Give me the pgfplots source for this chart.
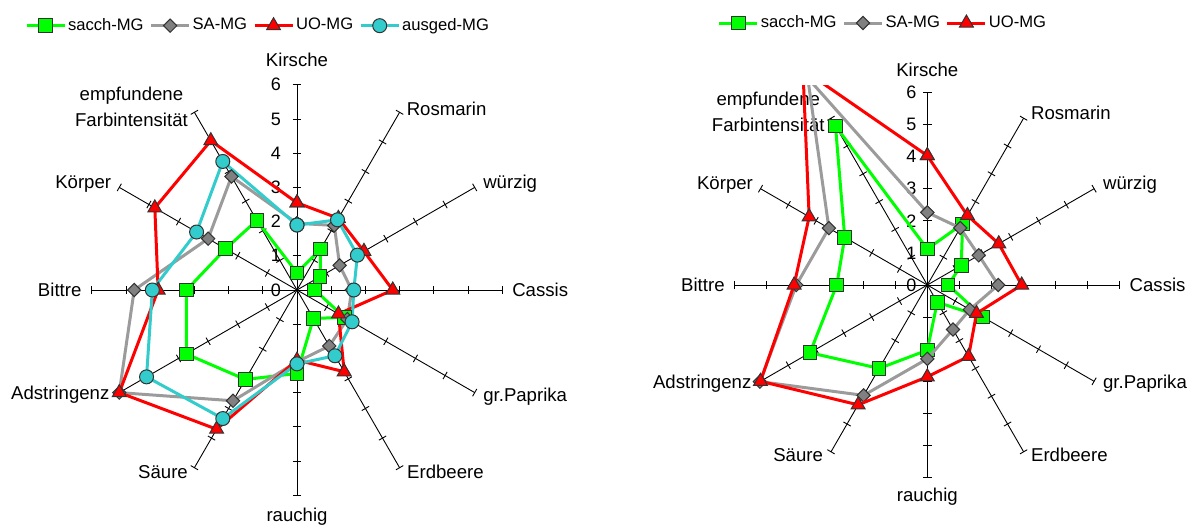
\documentclass[border=0pt]{standalone}
\usepackage{pgfplots}
\pgfplotsset{compat=1.18}
\usepackage{fontspec}
\setmainfont{Liberation Sans}

\definecolor{cGreen}{RGB}{0,255,0}
\definecolor{cGray}{RGB}{155,155,155}
\definecolor{cGrayM}{RGB}{128,128,128}
\definecolor{cRed}{RGB}{255,0,0}
\definecolor{cCyan}{RGB}{51,204,204}

\newcommand\lblfont{\fontsize{9.3}{12.9}\selectfont}
\newcommand\tickfont{\fontsize{9}{10}\selectfont}

\pgfplotsset{
  radar/.style={hide axis, anchor=origin,
    legend columns=4,
    legend style={draw=none, fill=none, anchor=center, inner sep=0pt,
      font=\fontsize{8.3}{10}\selectfont, nodes={inner sep=1pt},
      /tikz/every even column/.append style={column sep=2pt}},
    legend image code/.code={\draw[mark repeat=2,mark phase=2,##1]
      plot coordinates {(0pt,0pt) (9.5pt,0pt) (19pt,0pt)};}},
  sacch/.style={data cs=polar, color=cGreen, line width=1.5pt, mark=square*, mark size=3.4pt,
    mark options={solid, line width=0.5pt, draw=black!80, fill=cGreen}},
  sa/.style={data cs=polar, color=cGray, line width=1.5pt, mark=square*, mark size=2.35pt,
    mark options={solid, line width=0.5pt, draw=black!80, fill=cGrayM, rotate=45}},
  uo/.style={data cs=polar, color=cRed, line width=1.5pt, mark=triangle*, mark size=4pt,
    mark options={solid, line width=0.5pt, draw=black!80, fill=cRed}},
  ausged/.style={data cs=polar, color=cCyan, line width=1.5pt, mark=*, mark size=3.5pt,
    mark options={solid, line width=0.5pt, draw=black!80, fill=cCyan}},
}

\begin{document}
\begin{tikzpicture}[spoke/.style={black, line width=0.45pt}]
\useasboundingbox (0,0) rectangle (599pt,263pt);

% ---- left chart: spokes, ticks, labels
\begin{scope}[shift={(148.5pt,118pt)}]
  \foreach \a in {0,30,...,330} {
    \draw[spoke] (0,0) -- (\a:102.6pt);
    \foreach \k in {1,...,6}
      \draw[spoke] (\a:\k*17.1pt) ++(\a+90:2.1pt) -- ++(\a-90:4.2pt);
  }
  \foreach \k in {0,...,6}
    \node[anchor=east, inner sep=0pt, font=\tickfont] at (-7.8pt,\k*17.1pt) {\k};
  \begin{scope}[every node/.style={inner sep=0pt, font=\lblfont}]
    \node[anchor=center] at (0pt,115.1pt) {Kirsche};
    \node[anchor=west, xshift=3.4pt, yshift=1.7pt] at (60:102.6pt) {Rosmarin};
    \node[anchor=west, xshift=4.1pt, yshift=1.75pt] at (30:102.6pt) {würzig};
    \node[anchor=west, xshift=4.85pt] at (0:102.6pt) {Cassis};
    \node[anchor=west, xshift=4.1pt, yshift=-2.1pt] at (-30:102.6pt) {gr.Paprika};
    \node[anchor=west, xshift=3.6pt, yshift=-2.1pt] at (-60:102.6pt) {Erdbeere};
    \node[anchor=center] at (0pt,-113.1pt) {rauchig};
    \node[anchor=east, xshift=-3.1pt, yshift=-2.1pt] at (-120:102.6pt) {Säure};
    \node[anchor=east, xshift=-4.75pt, yshift=-1.25pt] at (-150:102.6pt) {Adstringenz};
    \node[anchor=east, xshift=-5pt] at (180:102.6pt) {Bittre};
    \node[anchor=east, xshift=-3.9pt, yshift=1.75pt] at (150:102.6pt) {Körper};
    \node[anchor=east, align=center, xshift=-3.1pt, yshift=2.65pt] at (120:102.6pt) {empfundene\\Farbintensität};
  \end{scope}
\end{scope}

% ---- right chart: spokes, ticks, labels
\begin{scope}[shift={(463.65pt,120.5pt)}]
  \foreach \a in {0,30,...,330} {
    \draw[spoke] (0,0) -- (\a:96.3pt);
    \foreach \k in {1,...,6}
      \draw[spoke] (\a:\k*16.05pt) ++(\a+90:2.1pt) -- ++(\a-90:4.2pt);
  }
  \foreach \k in {0,...,6}
    \node[anchor=east, inner sep=0pt, font=\tickfont] at (-5.3pt,\k*16.05pt) {\k};
  \begin{scope}[every node/.style={inner sep=0pt, font=\lblfont}]
    \node[anchor=center] at (0pt,107.5pt) {Kirsche};
    \node[anchor=west, xshift=3.55pt, yshift=2.45pt] at (60:96.3pt) {Rosmarin};
    \node[anchor=west, xshift=4.3pt, yshift=1.85pt] at (30:96.3pt) {würzig};
    \node[anchor=west, xshift=4.7pt] at (0:96.3pt) {Cassis};
    \node[anchor=west, xshift=4.3pt, yshift=-1.35pt] at (-30:96.3pt) {gr.Paprika};
    \node[anchor=west, xshift=3.55pt, yshift=-1.6pt] at (-60:96.3pt) {Erdbeere};
    \node[anchor=center] at (0pt,-106pt) {rauchig};
    \node[anchor=east, xshift=-3.85pt, yshift=-1.6pt] at (-120:96.3pt) {Säure};
    \node[anchor=east, xshift=-4.4pt, yshift=-1.35pt] at (-150:96.3pt) {Adstringenz};
    \node[anchor=east, xshift=-4.85pt] at (180:96.3pt) {Bittre};
    \node[anchor=east, xshift=-3.6pt, yshift=1.85pt] at (150:96.3pt) {Körper};
    \node[anchor=east, align=center, xshift=-3pt, yshift=3.25pt] at (120:96.3pt) {empfundene\\Farbintensität};
  \end{scope}
\end{scope}

% ---- left chart: data (angle, value)
\begin{axis}[radar, at={(148.5pt,118pt)}, x=17.1pt, y=17.1pt,
  xmin=-7, xmax=7, ymin=-7, ymax=7,
  legend style={at={(0.4185,1.052)}}]
\addplot[sacch] coordinates {(90,0.5) (60,1.38) (30,0.78) (0,0.52) (-30,1.6) (-60,0.96)
  (-90,2.44) (-120,3.02) (-150,3.74) (-180,3.23) (-210,2.41) (-240,2.35) (-270,0.5)};
\addplot[sa] coordinates {(90,1.95) (60,2.18) (30,1.44) (0,1.6) (-30,1.7) (-60,1.89)
  (-90,2.1) (-120,3.74) (-150,6.0) (-180,4.76) (-210,3.0) (-240,3.83) (-270,1.95)};
\addplot[uo] coordinates {(90,2.55) (60,2.42) (30,2.26) (0,2.8) (-30,1.4) (-60,2.76)
  (-90,2.05) (-120,4.7) (-150,6.0) (-180,4.06) (-210,4.8) (-240,5.04) (-270,2.55)};
\addplot[ausged] coordinates {(90,1.9) (60,2.37) (30,2.04) (0,1.66) (-30,1.86) (-60,2.22)
  (-90,2.16) (-120,4.34) (-150,5.08) (-180,4.23) (-210,3.39) (-240,4.34) (-270,1.9)};
\legend{sacch-MG, SA-MG, UO-MG, ausged-MG}
\end{axis}

% ---- right chart: data (angle, value)
\begin{axis}[radar, at={(463.65pt,120.5pt)}, x=16.05pt, y=16.05pt,
  xmin=-7, xmax=7, ymin=-7, ymax=6.23, clip marker paths=true,
  legend style={at={(0.4014,1.146)}}]
\addplot[sacch] coordinates {(90,1.12) (60,2.2) (30,1.22) (0,0.65) (-30,2.0) (-60,0.62)
  (-90,2.03) (-120,3.0) (-150,4.22) (-180,2.82) (-210,2.97) (-240,5.72) (-270,1.12)};
\addplot[sa] coordinates {(90,2.26) (60,2.05) (30,1.85) (0,2.21) (-30,1.53) (-60,1.6)
  (-90,2.3) (-120,3.97) (-150,6.02) (-180,4.08) (-210,3.54) (-240,7.45) (-270,2.26)};
\addplot[uo] coordinates {(90,4.03) (60,2.5) (30,2.57) (0,2.94) (-30,1.77) (-60,2.57)
  (-90,2.86) (-120,4.31) (-150,6.0) (-180,4.15) (-210,4.25) (-240,7.75) (-270,4.03)};
\legend{sacch-MG, SA-MG, UO-MG}
\end{axis}
\end{tikzpicture}
\end{document}
